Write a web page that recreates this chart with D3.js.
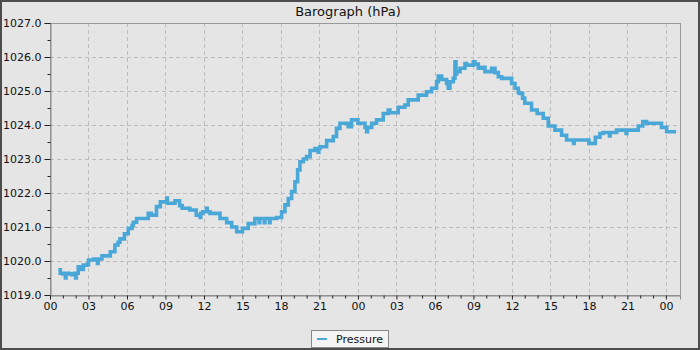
<!DOCTYPE html>
<html><head><meta charset="utf-8">
<script src="https://cdn.jsdelivr.net/npm/d3@7"></script>
<style>
html,body{margin:0;padding:0;background:#e5e5e5;}
svg{display:block;font-family:"DejaVu Sans",sans-serif;}
</style></head>
<body>
<svg id="chart" width="700" height="350"></svg>
<script>
const title = "Barograph (hPa)";
const seriesName = "Pressure";
const xTickHours = [0,3,6,9,12,15,18,21,24,27,30,33,36,39,42,45,48];
const xTickLabels = ["00","03","06","09","12","15","18","21","00","03","06","09","12","15","18","21","00"];
const yTicks = [1019,1020,1021,1022,1023,1024,1025,1026,1027];
const hours = [
0.65,0.8,1.0,1.2,1.25,1.5,1.7,1.9,2.0,2.05,2.2,2.4,2.6,2.9,3.0,3.4,3.7,3.75,4.05,4.5,4.7,5.06,5.3,5.45,5.8,6.1,6.4,6.5,6.75,7.2,7.66,7.9,8.3,8.6,8.9,9.1,9.15,9.5,9.74,10.1,10.3,10.65,10.9,11.4,11.7,11.75,11.9,12.2,12.25,
12.47,13.25,13.77,14.16,14.55,15.0,15.45,15.97,16.3,16.35,16.7,16.75,17.1,17.15,17.66,18.05,18.31,18.57,18.83,19.09,19.3,19.48,19.74,20.0,20.27,20.65,20.9,20.95,21.04,21.56,22.08,22.33,22.6,23.24,23.5,24.0,
24.55,24.68,24.75,25.07,25.45,25.97,26.36,26.49,27.14,27.66,27.92,28.7,29.35,29.74,30.13,30.26,30.52,30.91,31.04,31.17,31.43,31.56,31.64,31.69,31.95,32.34,32.47,32.99,33.12,33.38,33.64,33.9,34.42,34.68,34.94,35.2,35.98,36.24,36.5,
36.62,36.83,37.0,37.53,37.97,38.44,38.83,39.35,39.87,40.26,40.8,40.85,41.95,42.0,42.4,42.5,42.86,43.1,43.6,43.65,44.16,44.9,44.95,45.85,46.2,46.5,47.66,48.06,48.8
];
const pressure = [
1019.74,1019.64,1019.62,1019.5,1019.64,1019.62,1019.6,1019.64,1019.5,1019.64,1019.83,1019.75,1019.88,1019.9,1020.03,1020.06,1019.93,1020.06,1020.15,1020.15,1020.27,1020.47,1020.55,1020.65,1020.8,1020.96,1021.05,1021.14,1021.25,1021.25,1021.4,1021.35,1021.6,1021.74,1021.74,1021.85,1021.7,1021.7,1021.77,1021.63,1021.55,1021.55,1021.5,1021.35,1021.28,1021.4,1021.45,1021.55,1021.45,
1021.4,1021.25,1021.13,1021.0,1020.86,1020.96,1021.1,1021.25,1021.13,1021.25,1021.13,1021.25,1021.13,1021.25,1021.28,1021.45,1021.65,1021.84,1022.04,1022.33,1022.68,1022.92,1023.0,1023.07,1023.25,1023.31,1023.2,1023.31,1023.36,1023.54,1023.66,1023.9,1024.05,1023.95,1024.15,1024.05,
1023.93,1023.8,1023.93,1024.05,1024.15,1024.34,1024.44,1024.36,1024.52,1024.59,1024.74,1024.88,1024.98,1025.08,1025.27,1025.44,1025.34,1025.22,1025.08,1025.27,1025.37,1025.86,1025.5,1025.57,1025.67,1025.81,1025.76,1025.86,1025.79,1025.67,1025.7,1025.57,1025.67,1025.54,1025.42,1025.37,1025.22,1025.08,1024.95,
1024.93,1024.79,1024.64,1024.44,1024.34,1024.2,1023.97,1023.85,1023.7,1023.56,1023.46,1023.56,1023.56,1023.46,1023.46,1023.64,1023.75,1023.78,1023.68,1023.78,1023.85,1023.75,1023.85,1023.97,1024.1,1024.05,1023.93,1023.8,1023.8
];

const svg = d3.select("#chart");
const W = 700, H = 350;
const m = {left:50, right:20, top:23, bottom:55};
const pw = W - m.left - m.right, ph = H - m.top - m.bottom;

svg.append("rect").attr("x",1).attr("y",1).attr("width",W-2).attr("height",H-2)
  .attr("fill","#e5e5e5").attr("stroke","#4d4d4d").attr("stroke-width",2);

const x = d3.scaleLinear().domain([0,49.1]).range([m.left, m.left+pw]);
const y = d3.scaleLinear().domain([1019,1027]).range([m.top+ph, m.top]);

// grid
const g = svg.append("g");
g.selectAll(".hg").data(yTicks.filter(v=>v>1019&&v<1027)).enter().append("line")
  .attr("x1",m.left).attr("x2",m.left+pw)
  .attr("y1",d=>Math.round(y(d))+0.5).attr("y2",d=>Math.round(y(d))+0.5)
  .attr("stroke","#bdbdbd").attr("stroke-dasharray","4,3");
g.selectAll(".vg").data(xTickHours.filter(v=>v>0)).enter().append("line")
  .attr("y1",m.top).attr("y2",m.top+ph)
  .attr("x1",d=>Math.round(x(d))+0.5).attr("x2",d=>Math.round(x(d))+0.5)
  .attr("stroke","#bdbdbd").attr("stroke-dasharray","4,3");

// frame
svg.append("rect").attr("x",m.left+0.5).attr("y",m.top+0.5).attr("width",pw).attr("height",ph)
  .attr("fill","none").attr("stroke","#999");

// line
const data = hours.map((h,i)=>[h,pressure[i]]);
const line = d3.line().x(d=>x(d[0])).y(d=>y(d[1])).curve(d3.curveStepAfter);
svg.append("path").datum(data).attr("d",line).attr("fill","none")
  .attr("stroke","#4aa8d8").attr("stroke-width",3.6).attr("stroke-linejoin","miter");

// y axis
const yAxis = d3.axisLeft(y).tickValues(yTicks).tickFormat(d=>d.toFixed(1)).tickSize(6).tickPadding(3);
const ya = svg.append("g").attr("transform",`translate(${m.left+0.5},0)`).call(yAxis);
ya.select(".domain").attr("stroke","#888");
ya.selectAll(".tick line").attr("stroke","#222");
ya.selectAll("text").attr("font-size",11).attr("fill","#111").attr("font-family","DejaVu Sans");
const yMinor = d3.range(1019.5,1027,1);
const ym = svg.append("g").attr("transform",`translate(${m.left+0.5},0)`)
  .call(d3.axisLeft(y).tickValues(yMinor).tickFormat("").tickSize(3));
ym.select(".domain").remove();
ym.selectAll(".tick line").attr("stroke","#222");

// x axis
const xAxis = d3.axisBottom(x).tickValues(xTickHours).tickFormat((d,i)=>xTickLabels[i]).tickSize(4).tickPadding(3);
const xa = svg.append("g").attr("transform",`translate(0,${m.top+ph+0.5})`).call(xAxis);
xa.select(".domain").attr("stroke","#888");
xa.selectAll(".tick line").attr("stroke","#222");
xa.selectAll("text").attr("font-size",11).attr("fill","#111").attr("font-family","DejaVu Sans");
const xMinor = d3.range(1,49,1).filter(h=>h%3!==0);
const xm = svg.append("g").attr("transform",`translate(0,${m.top+ph+0.5})`)
  .call(d3.axisBottom(x).tickValues(xMinor).tickFormat("").tickSize(3));
xm.select(".domain").remove();
xm.selectAll(".tick line").attr("stroke","#222");

// title
svg.append("text").attr("x",348).attr("y",16).attr("text-anchor","middle")
  .attr("font-size",13).attr("fill","#111").text(title);

// legend
const lg = svg.append("g").attr("transform","translate(311,330)");
lg.append("rect").attr("x",0.5).attr("y",0.5).attr("width",77).attr("height",17)
  .attr("fill","#f4f4f4").attr("stroke","#888");
lg.append("line").attr("x1",6).attr("x2",16).attr("y1",9).attr("y2",9)
  .attr("stroke","#4aa8d8").attr("stroke-width",2);
lg.append("text").attr("x",25).attr("y",13).attr("font-size",11).attr("fill","#111").text(seriesName);
</script>
</body></html>
